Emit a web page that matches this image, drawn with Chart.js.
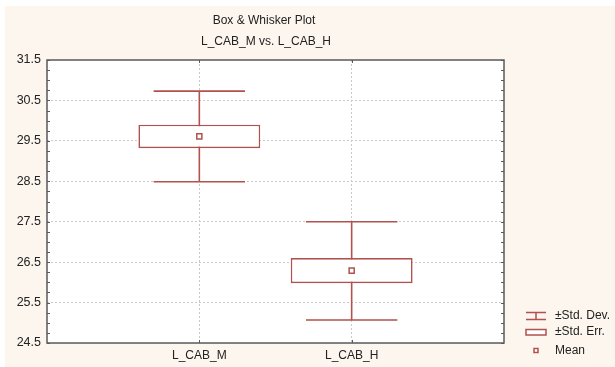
<!DOCTYPE html>
<html>
<head>
<meta charset="utf-8">
<script src="https://cdn.jsdelivr.net/npm/chart.js@4.4.1/dist/chart.umd.min.js"></script>
<style>
  html, body { margin: 0; padding: 0; background: #ffffff; }
  #wrap { width: 615px; height: 367px; position: relative; }
</style>
</head>
<body>
<div id="wrap"><canvas id="c" width="615" height="367"></canvas></div>
<script>
// ---- data ----
const categories   = ['L_CAB_M', 'L_CAB_H'];
const means        = [29.61, 26.29];
const stdErrLow    = [29.32, 25.98];
const stdErrHigh   = [29.90, 26.60];
const stdDevLow    = [28.49, 25.07];
const stdDevHigh   = [30.73, 27.50];
const yTickValues  = [24.5, 25.5, 26.5, 27.5, 28.5, 29.5, 30.5, 31.5];
const titleLines   = ['Box & Whisker Plot', 'L_CAB_M vs. L_CAB_H'];
const legendLabels = ['\u00B1Std. Dev.', '\u00B1Std. Err.', 'Mean'];

// ---- styling ----
const RED = 'rgb(178,82,78)';
const CREAM = '#fdf6ef';
const FRAME = '#5a5a5a';
const TEXT = '#222222';
const FONT = '"Liberation Sans", Arial, sans-serif';
const CAP_HALF = 0.3;

const xPos = categories.map((c, i) => i + 1);

const whiskerData = [];
categories.forEach((c, i) => {
  const x = xPos[i];
  whiskerData.push({x: x, y: stdDevLow[i]}, {x: x, y: stdDevHigh[i]}, {x: x, y: null});
  whiskerData.push({x: x - CAP_HALF, y: stdDevHigh[i]}, {x: x + CAP_HALF, y: stdDevHigh[i]}, {x: x, y: null});
  whiskerData.push({x: x - CAP_HALF, y: stdDevLow[i]}, {x: x + CAP_HALF, y: stdDevLow[i]}, {x: x, y: null});
});
const boxData = categories.map((c, i) => ({x: xPos[i], y: [stdErrLow[i], stdErrHigh[i]]}));
const meanData = categories.map((c, i) => ({x: xPos[i], y: means[i]}));

const decor = {
  id: 'decor',
  beforeDraw(chart) {
    const ctx = chart.ctx, a = chart.chartArea;
    ctx.save();
    ctx.fillStyle = '#ffffff';
    ctx.fillRect(0, 0, chart.width, chart.height);
    ctx.fillStyle = CREAM;
    ctx.fillRect(5, 6, chart.width - 5, chart.height - 6);
    ctx.fillStyle = '#ffffff';
    ctx.fillRect(a.left, a.top, a.right - a.left, a.bottom - a.top);
    ctx.restore();
  },
  afterDraw(chart) {
    const ctx = chart.ctx, a = chart.chartArea;
    const ys = chart.scales.y, xs = chart.scales.x;
    ctx.save();
    // minor ticks (inward) on left and right
    ctx.strokeStyle = FRAME;
    ctx.lineWidth = 1;
    ctx.beginPath();
    for (let v = ys.min; v <= ys.max + 1e-9; v += 0.25) {
      const py = Math.round(ys.getPixelForValue(v)) + 0.5;
      ctx.moveTo(a.left, py); ctx.lineTo(a.left + 3, py);
      ctx.moveTo(a.right, py); ctx.lineTo(a.right - 3, py);
    }
    xPos.forEach(v => {
      const px = Math.round(xs.getPixelForValue(v)) + 0.5;
      ctx.moveTo(px, a.top); ctx.lineTo(px, a.top + 3);
      ctx.moveTo(px, a.bottom); ctx.lineTo(px, a.bottom - 3);
    });
    ctx.stroke();
    // frame
    ctx.lineWidth = 1.5;
    ctx.strokeStyle = FRAME;
    ctx.strokeRect(a.left, a.top, a.right - a.left, a.bottom - a.top);
    // title
    ctx.fillStyle = TEXT;
    ctx.font = '12px ' + FONT;
    ctx.textAlign = 'center';
    ctx.textBaseline = 'middle';
    ctx.fillText(titleLines[0], 264, 21);
    ctx.fillText(titleLines[1], 266, 41.5);
    // legend
    const lx = 526, lw = 20, tx = 555;
    const rowsY = [315.5, 332, 350.5];
    ctx.strokeStyle = RED;
    ctx.lineWidth = 1.5;
    ctx.beginPath();
    ctx.moveTo(lx, 312.5); ctx.lineTo(lx + lw, 312.5);
    ctx.moveTo(lx, 319.5); ctx.lineTo(lx + lw, 319.5);
    ctx.moveTo(lx + lw / 2, 312.5); ctx.lineTo(lx + lw / 2, 319.5);
    ctx.stroke();
    ctx.fillStyle = '#ffffff';
    ctx.fillRect(lx, 329.5, lw, 5.5);
    ctx.strokeRect(lx, 329.5, lw, 5.5);
    ctx.fillRect(lx + lw / 2 - 2, 348.5, 4, 4);
    ctx.strokeRect(lx + lw / 2 - 2, 348.5, 4, 4);
    ctx.fillStyle = TEXT;
    ctx.textAlign = 'left';
    legendLabels.forEach((t, i) => ctx.fillText(t, tx, rowsY[i]));
    ctx.restore();
  }
};

new Chart(document.getElementById('c'), {
  data: {
    datasets: [
      {
        type: 'line',
        data: whiskerData,
        borderColor: RED,
        borderWidth: 1.6,
        pointRadius: 0,
        spanGaps: false,
        fill: false,
        order: 3
      },
      {
        type: 'bar',
        data: boxData,
        backgroundColor: '#ffffff',
        borderColor: RED,
        borderWidth: 1.6,
        borderSkipped: false,
        barPercentage: 1,
        categoryPercentage: 0.8,
        order: 2
      },
      {
        type: 'scatter',
        data: meanData,
        pointStyle: 'rect',
        pointRadius: 3.6,
        pointBackgroundColor: '#ffffff',
        pointBorderColor: RED,
        pointBorderWidth: 1.5,
        order: 1
      }
    ]
  },
  options: {
    responsive: false,
    animation: false,
    events: [],
    layout: { padding: { left: 0, top: 60, right: 111, bottom: 0 } },
    plugins: {
      legend: { display: false },
      title: { display: false },
      tooltip: { enabled: false }
    },
    scales: {
      x: {
        type: 'linear',
        min: 0,
        max: 3,
        offset: false,
        bounds: 'data',
        grace: 0,
        afterBuildTicks: s => { s.ticks = xPos.map(v => ({value: v})); },
        afterFit: s => { s.height = 24; },
        ticks: {
          callback: v => categories[v - 1],
          color: TEXT,
          font: { family: FONT, size: 12 },
          padding: 5,
          maxRotation: 0,
          autoSkip: false
        },
        grid: { color: '#c9c9c9', lineWidth: 1, drawTicks: false, offset: false },
        border: { display: false, dash: [2, 2] }
      },
      y: {
        type: 'linear',
        min: 24.5,
        max: 31.5,
        afterBuildTicks: s => { s.ticks = yTickValues.map(v => ({value: v})); },
        afterFit: s => { s.width = 47; },
        ticks: {
          callback: v => v.toFixed(1),
          color: TEXT,
          font: { family: FONT, size: 12.5 },
          padding: 6,
          autoSkip: false
        },
        grid: {
          color: ctx => (ctx.tick && (ctx.tick.value === 24.5 || ctx.tick.value === 31.5)) ? 'rgba(0,0,0,0)' : '#c9c9c9',
          lineWidth: 1,
          drawTicks: false
        },
        border: { display: false, dash: [2, 2] }
      }
    }
  },
  plugins: [decor]
});
</script>
</body>
</html>
